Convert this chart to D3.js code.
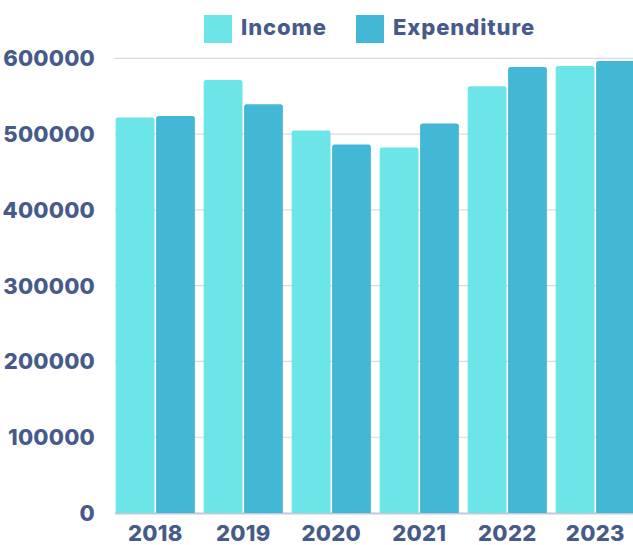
<!DOCTYPE html>
<head>
  <meta charset="utf-8">
  <script src="https://d3js.org/d3.v7.min.js"></script>
  <style>
    body { margin:0; background:#fff; }
    text { font-family: Inter, "Open Sans", sans-serif; font-weight: 800; fill: #475b8b; }
  </style>
</head>
<body>
<svg width="633" height="545"></svg>
<script>

const years = ["2018", "2019", "2020", "2021", "2022", "2023"]
const series = ["Income", "Expenditure"]
const income = [522000, 571600, 504900, 482500, 563300, 590100]
const expenditure = [524100, 539600, 486400, 514100, 588800, 596700]
const yTicks = [0, 100000, 200000, 300000, 400000, 500000, 600000]
const colors = ["#6be5e8", "#42b8d6"]

const svg = d3.select("svg")

const x0 = d3.scaleBand().domain(years).range([106.9, 643.7]).paddingInner(0.1).paddingOuter(0.1)
const x1 = d3.scaleBand().domain(series).range([0, x0.bandwidth()]).paddingInner(0.04)
const y = d3.scaleLinear().domain([0, 600000]).range([513, 58.4])
const color = d3.scaleOrdinal().domain(series).range(colors)

// grid
svg.append("g")
  .selectAll("line")
  .data(yTicks.slice(1))
  .enter().append("line")
    .attr("x1", 115).attr("x2", 633)
    .attr("y1", d => y(d)).attr("y2", d => y(d))
    .attr("stroke", "#d5dae8")
    .attr("stroke-width", 1.2)

// baseline
svg.append("line")
  .attr("x1", 115).attr("x2", 633)
  .attr("y1", y(0) + 0.5).attr("y2", y(0) + 0.5)
  .attr("stroke", "#c6c8da")
  .attr("stroke-width", 2)

svg.append("g")
  .selectAll("text")
  .data(yTicks)
  .enter().append("text")
    .attr("x", 95)
    .attr("y", d => y(d) + 8)
    .attr("text-anchor", "end")
    .attr("font-size", 22)
    .attr("letter-spacing", 0.2)
    .text(d => d)

const rows = years.map((yr, i) => ({year: yr, values: [income[i], expenditure[i]]}))

function topRound(x, yTop, w, h, r) {
  return `M${x},${yTop + h}V${yTop + r}Q${x},${yTop} ${x + r},${yTop}H${x + w - r}Q${x + w},${yTop} ${x + w},${yTop + r}V${yTop + h}Z`
}

svg.append("g")
  .selectAll("g")
  .data(rows)
  .enter().append("g")
    .attr("transform", d => `translate(${x0(d.year)},0)`)
  .selectAll("path")
  .data(d => d.values.map((v, j) => ({key: series[j], value: v})))
  .enter().append("path")
    .attr("d", d => topRound(x1(d.key), y(d.value), x1.bandwidth(), y(0) - y(d.value), 2.5))
    .attr("fill", d => color(d.key))

svg.append("g")
  .selectAll("text")
  .data(years)
  .enter().append("text")
    .attr("x", d => x0(d) + x0.bandwidth() / 2)
    .attr("y", 541)
    .attr("text-anchor", "middle")
    .attr("font-size", 22)
    .attr("letter-spacing", 0.3)
    .text(d => d)

// legend
const legendX = [204, 356]
const legend = svg.append("g")
  .selectAll("g")
  .data(series)
  .enter().append("g")
    .attr("transform", (d, i) => `translate(${legendX[i]},15)`)
legend.append("rect")
  .attr("width", 28).attr("height", 28)
  .attr("fill", d => color(d))
legend.append("text")
  .attr("x", 37).attr("y", 20)
  .attr("font-size", 22)
  .attr("letter-spacing", 0.9)
  .text(d => d)

</script>
</body>
